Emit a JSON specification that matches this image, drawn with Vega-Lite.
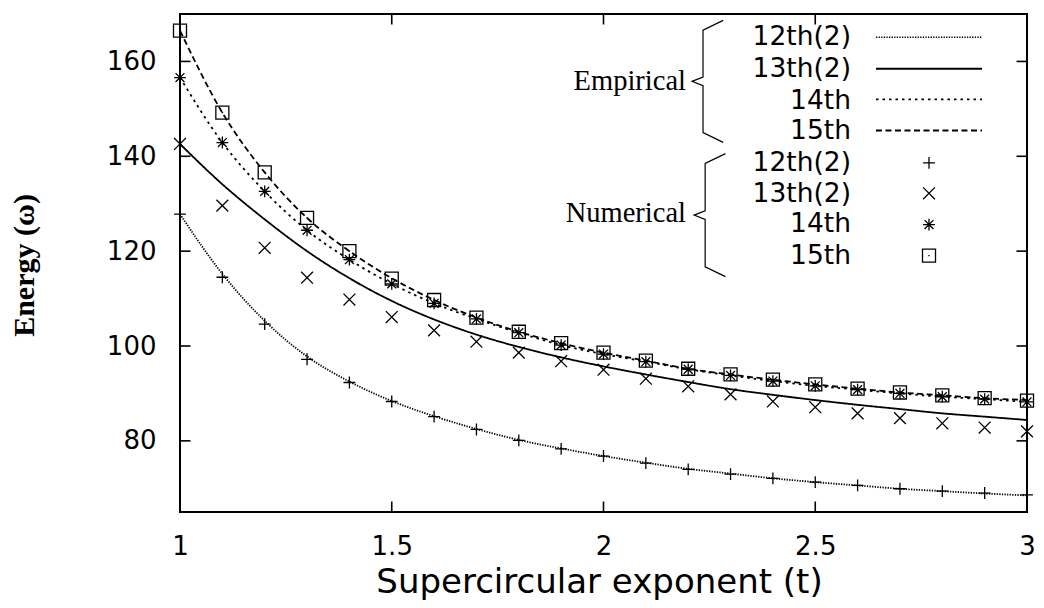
{
  "$schema": "https://vega.github.io/schema/vega-lite/v6.json",
  "width": 847,
  "height": 498,
  "autosize": {"type": "none"},
  "padding": {"left": 180, "top": 14, "right": 17, "bottom": 96},
  "background": "white",
  "data": {"values": [{}]},
  "config": {
    "view": {"stroke": "black", "strokeWidth": 2},
    "axis": {"grid": false, "domain": false, "ticks": false, "labelColor": "black", "labelFont": "DejaVu Sans", "labelFontSize": 26, "titleColor": "black"},
    "text": {"font": "DejaVu Sans", "fontSize": 26.5, "color": "black", "align": "right", "baseline": "alphabetic"},
    "rule": {"color": "black", "strokeWidth": 1.5},
    "point": {"filled": false, "color": "black", "opacity": 1, "strokeWidth": 1.3}
  },
  "datasets": {
    "empirical": [
      {"t":1.0,"series":"12th(2)","E":127.8},{"t":1.1,"series":"12th(2)","E":115.2},{"t":1.2,"series":"12th(2)","E":105.3},{"t":1.3,"series":"12th(2)","E":97.8},{"t":1.4,"series":"12th(2)","E":92.5},{"t":1.5,"series":"12th(2)","E":88.4},{"t":1.6,"series":"12th(2)","E":85.2},{"t":1.7,"series":"12th(2)","E":82.5},{"t":1.8,"series":"12th(2)","E":80.2},{"t":1.9,"series":"12th(2)","E":78.4},{"t":2.0,"series":"12th(2)","E":76.8},{"t":2.1,"series":"12th(2)","E":75.4},{"t":2.2,"series":"12th(2)","E":74.1},{"t":2.3,"series":"12th(2)","E":73.1},{"t":2.4,"series":"12th(2)","E":72.1},{"t":2.5,"series":"12th(2)","E":71.3},{"t":2.6,"series":"12th(2)","E":70.6},{"t":2.7,"series":"12th(2)","E":69.9},{"t":2.8,"series":"12th(2)","E":69.4},{"t":2.9,"series":"12th(2)","E":68.9},{"t":3.0,"series":"12th(2)","E":68.5},
      {"t":1.0,"series":"13th(2)","E":142.6},{"t":1.1,"series":"13th(2)","E":134.1},{"t":1.2,"series":"13th(2)","E":126.7},{"t":1.3,"series":"13th(2)","E":120.0},{"t":1.4,"series":"13th(2)","E":114.3},{"t":1.5,"series":"13th(2)","E":109.5},{"t":1.6,"series":"13th(2)","E":105.6},{"t":1.7,"series":"13th(2)","E":102.4},{"t":1.8,"series":"13th(2)","E":99.8},{"t":1.9,"series":"13th(2)","E":97.6},{"t":2.0,"series":"13th(2)","E":95.7},{"t":2.1,"series":"13th(2)","E":94.0},{"t":2.2,"series":"13th(2)","E":92.4},{"t":2.3,"series":"13th(2)","E":90.9},{"t":2.4,"series":"13th(2)","E":89.7},{"t":2.5,"series":"13th(2)","E":88.6},{"t":2.6,"series":"13th(2)","E":87.6},{"t":2.7,"series":"13th(2)","E":86.7},{"t":2.8,"series":"13th(2)","E":85.8},{"t":2.9,"series":"13th(2)","E":85.1},{"t":3.0,"series":"13th(2)","E":84.4},
      {"t":1.0,"series":"14th","E":156.6},{"t":1.1,"series":"14th","E":142.9},{"t":1.2,"series":"14th","E":132.6},{"t":1.3,"series":"14th","E":124.4},{"t":1.4,"series":"14th","E":118.2},{"t":1.5,"series":"14th","E":113.1},{"t":1.6,"series":"14th","E":109.0},{"t":1.7,"series":"14th","E":105.7},{"t":1.8,"series":"14th","E":102.8},{"t":1.9,"series":"14th","E":100.2},{"t":2.0,"series":"14th","E":98.3},{"t":2.1,"series":"14th","E":96.7},{"t":2.2,"series":"14th","E":95.1},{"t":2.3,"series":"14th","E":93.8},{"t":2.4,"series":"14th","E":92.6},{"t":2.5,"series":"14th","E":91.6},{"t":2.6,"series":"14th","E":90.8},{"t":2.7,"series":"14th","E":90.0},{"t":2.8,"series":"14th","E":89.3},{"t":2.9,"series":"14th","E":88.8},{"t":3.0,"series":"14th","E":88.2},
      {"t":1.0,"series":"15th","E":166.5},{"t":1.1,"series":"15th","E":149.2},{"t":1.2,"series":"15th","E":136.6},{"t":1.3,"series":"15th","E":127.0},{"t":1.4,"series":"15th","E":120.0},{"t":1.5,"series":"15th","E":114.3},{"t":1.6,"series":"15th","E":109.7},{"t":1.7,"series":"15th","E":106.0},{"t":1.8,"series":"15th","E":103.0},{"t":1.9,"series":"15th","E":100.6},{"t":2.0,"series":"15th","E":98.6},{"t":2.1,"series":"15th","E":96.9},{"t":2.2,"series":"15th","E":95.2},{"t":2.3,"series":"15th","E":94.0},{"t":2.4,"series":"15th","E":92.9},{"t":2.5,"series":"15th","E":91.9},{"t":2.6,"series":"15th","E":91.0},{"t":2.7,"series":"15th","E":90.2},{"t":2.8,"series":"15th","E":89.6},{"t":2.9,"series":"15th","E":89.0},{"t":3.0,"series":"15th","E":88.6}
    ],
    "numerical": [
      {"t":1.0,"series":"12th(2)","E":127.8},{"t":1.1,"series":"12th(2)","E":114.5},{"t":1.2,"series":"12th(2)","E":104.6},{"t":1.3,"series":"12th(2)","E":97.2},{"t":1.4,"series":"12th(2)","E":92.3},{"t":1.5,"series":"12th(2)","E":88.3},{"t":1.6,"series":"12th(2)","E":85.1},{"t":1.7,"series":"12th(2)","E":82.4},{"t":1.8,"series":"12th(2)","E":80.1},{"t":1.9,"series":"12th(2)","E":78.3},{"t":2.0,"series":"12th(2)","E":76.8},{"t":2.1,"series":"12th(2)","E":75.3},{"t":2.2,"series":"12th(2)","E":74.0},{"t":2.3,"series":"12th(2)","E":73.0},{"t":2.4,"series":"12th(2)","E":72.1},{"t":2.5,"series":"12th(2)","E":71.3},{"t":2.6,"series":"12th(2)","E":70.6},{"t":2.7,"series":"12th(2)","E":69.9},{"t":2.8,"series":"12th(2)","E":69.4},{"t":2.9,"series":"12th(2)","E":69.0},{"t":3.0,"series":"12th(2)","E":68.6},
      {"t":1.0,"series":"13th(2)","E":142.6},{"t":1.1,"series":"13th(2)","E":129.6},{"t":1.2,"series":"13th(2)","E":120.7},{"t":1.3,"series":"13th(2)","E":114.4},{"t":1.4,"series":"13th(2)","E":109.8},{"t":1.5,"series":"13th(2)","E":106.1},{"t":1.6,"series":"13th(2)","E":103.3},{"t":1.7,"series":"13th(2)","E":100.9},{"t":1.8,"series":"13th(2)","E":98.6},{"t":1.9,"series":"13th(2)","E":96.8},{"t":2.0,"series":"13th(2)","E":95.0},{"t":2.1,"series":"13th(2)","E":93.1},{"t":2.2,"series":"13th(2)","E":91.5},{"t":2.3,"series":"13th(2)","E":89.8},{"t":2.4,"series":"13th(2)","E":88.3},{"t":2.5,"series":"13th(2)","E":87.1},{"t":2.6,"series":"13th(2)","E":85.8},{"t":2.7,"series":"13th(2)","E":84.8},{"t":2.8,"series":"13th(2)","E":83.7},{"t":2.9,"series":"13th(2)","E":82.8},{"t":3.0,"series":"13th(2)","E":82.0},
      {"t":1.0,"series":"14th","E":156.6},{"t":1.1,"series":"14th","E":142.9},{"t":1.2,"series":"14th","E":132.6},{"t":1.3,"series":"14th","E":124.4},{"t":1.4,"series":"14th","E":118.2},{"t":1.5,"series":"14th","E":113.1},{"t":1.6,"series":"14th","E":109.0},{"t":1.7,"series":"14th","E":105.7},{"t":1.8,"series":"14th","E":102.8},{"t":1.9,"series":"14th","E":100.2},{"t":2.0,"series":"14th","E":98.3},{"t":2.1,"series":"14th","E":96.7},{"t":2.2,"series":"14th","E":95.1},{"t":2.3,"series":"14th","E":93.8},{"t":2.4,"series":"14th","E":92.6},{"t":2.5,"series":"14th","E":91.6},{"t":2.6,"series":"14th","E":90.8},{"t":2.7,"series":"14th","E":90.0},{"t":2.8,"series":"14th","E":89.3},{"t":2.9,"series":"14th","E":88.8},{"t":3.0,"series":"14th","E":88.2},
      {"t":1.0,"series":"15th","E":166.5},{"t":1.1,"series":"15th","E":149.2},{"t":1.2,"series":"15th","E":136.6},{"t":1.3,"series":"15th","E":127.0},{"t":1.4,"series":"15th","E":120.0},{"t":1.5,"series":"15th","E":114.2},{"t":1.6,"series":"15th","E":109.7},{"t":1.7,"series":"15th","E":106.0},{"t":1.8,"series":"15th","E":103.0},{"t":1.9,"series":"15th","E":100.6},{"t":2.0,"series":"15th","E":98.6},{"t":2.1,"series":"15th","E":96.9},{"t":2.2,"series":"15th","E":95.2},{"t":2.3,"series":"15th","E":94.0},{"t":2.4,"series":"15th","E":92.9},{"t":2.5,"series":"15th","E":91.9},{"t":2.6,"series":"15th","E":91.0},{"t":2.7,"series":"15th","E":90.2},{"t":2.8,"series":"15th","E":89.6},{"t":2.9,"series":"15th","E":89.0},{"t":3.0,"series":"15th","E":88.5}
    ],
    "yticks": [{"v": 80}, {"v": 100}, {"v": 120}, {"v": 140}, {"v": 160}],
    "xticks": [{"v": 1.5}, {"v": 2}, {"v": 2.5}]
  },
  "layer": [
    {
      "data": {"name": "empirical"},
      "mark": {"type": "line", "interpolate": "monotone", "color": "black", "strokeWidth": 1.8},
      "encoding": {
        "x": {"field": "t", "type": "quantitative", "scale": {"domain": [1, 3], "nice": false, "zero": false},
              "axis": {"values": [1, 1.5, 2, 2.5, 3], "format": "~g", "labelPadding": 21, "labelFlush": false, "labelOverlap": false,
                       "title": "Supercircular exponent (t)", "titleFont": "DejaVu Sans", "titleFontSize": 34, "titleFontWeight": "normal", "titleX": 419, "titleY": 80, "titleBaseline": "alphabetic", "titleAlign": "center"}},
        "y": {"field": "E", "type": "quantitative", "scale": {"domain": [65, 170], "nice": false, "zero": false},
              "axis": {"values": [80, 100, 120, 140, 160], "format": "d", "labelPadding": 24, "labelOverlap": false,
                       "title": "Energy (ω)", "titleFont": "Liberation Serif", "titleFontSize": 30, "titleFontWeight": "bold", "titleAngle": -90, "titleX": -156, "titleY": 251, "titleAlign": "center", "titleBaseline": "middle"}},
        "strokeDash": {"field": "series", "type": "nominal",
                       "scale": {"domain": ["12th(2)", "13th(2)", "14th", "15th"], "range": [[1.3, 1.3], [1, 0], [2.5, 4], [6, 3.5]]},
                       "legend": null}
      }
    },
    {
      "data": {"name": "numerical"},
      "mark": {"type": "point", "size": 140},
      "encoding": {
        "x": {"field": "t", "type": "quantitative", "axis": null},
        "y": {"field": "E", "type": "quantitative", "axis": null},
        "shape": {"field": "series", "type": "nominal",
                  "scale": {"domain": ["12th(2)", "13th(2)", "14th", "15th"],
                            "range": ["M-1,0H1M0,-1V1", "M-1,-1L1,1M-1,1L1,-1", "M-1,0H1M0,-1V1M-0.75,-0.75L0.75,0.75M-0.75,0.75L0.75,-0.75", "M-1.1,-1.1H1.1V1.1H-1.1ZM-0.12,0H0.12"]},
                  "legend": null}
      }
    },
    {"data": {"name": "yticks"}, "mark": {"type": "point", "shape": "M0,0H1", "size": 441, "strokeWidth": 1.6},
     "encoding": {"y": {"field": "v", "type": "quantitative", "axis": null}, "x": {"datum": 1, "type": "quantitative", "axis": null}}},
    {"data": {"name": "yticks"}, "mark": {"type": "point", "shape": "M0,0H-1", "size": 441, "strokeWidth": 1.6},
     "encoding": {"y": {"field": "v", "type": "quantitative", "axis": null}, "x": {"datum": 3, "type": "quantitative", "axis": null}}},
    {"data": {"name": "xticks"}, "mark": {"type": "point", "shape": "M0,0V-1", "size": 441, "strokeWidth": 1.6},
     "encoding": {"x": {"field": "v", "type": "quantitative", "axis": null}, "y": {"datum": 65, "type": "quantitative", "axis": null}}},
    {"data": {"name": "xticks"}, "mark": {"type": "point", "shape": "M0,0V1", "size": 441, "strokeWidth": 1.6},
     "encoding": {"x": {"field": "v", "type": "quantitative", "axis": null}, "y": {"datum": 170, "type": "quantitative", "axis": null}}},
    {"mark": {"type": "point", "shape": "M0.33,-1L0,-0.84L0,-0.07L-0.18,0L0,0.07L0,0.84L0.33,1", "size": 14884, "strokeWidth": 1.2},
     "encoding": {"x": {"datum": 2.235, "type": "quantitative", "axis": null}, "y": {"datum": 155.8, "type": "quantitative", "axis": null}}},
    {"mark": {"type": "point", "shape": "M0.33,-1L0,-0.84L0,-0.07L-0.18,0L0,0.07L0,0.84L0.33,1", "size": 15129, "strokeWidth": 1.2},
     "encoding": {"x": {"datum": 2.24, "type": "quantitative", "axis": null}, "y": {"datum": 127.6, "type": "quantitative", "axis": null}}},
    {"mark": {"type": "text", "font": "Liberation Serif", "fontSize": 28.5, "text": "Empirical"},
     "encoding": {"x": {"datum": 2.1948, "type": "quantitative", "axis": null}, "y": {"datum": 153.88, "type": "quantitative", "axis": null}}},
    {"mark": {"type": "text", "font": "Liberation Serif", "fontSize": 28.5, "text": "Numerical"},
     "encoding": {"x": {"datum": 2.1948, "type": "quantitative", "axis": null}, "y": {"datum": 126.08, "type": "quantitative", "axis": null}}},
    {"mark": {"type": "text", "text": "12th(2)"},
     "encoding": {"x": {"datum": 2.5844, "type": "quantitative", "axis": null}, "y": {"datum": 163.38, "type": "quantitative", "axis": null}}},
    {"mark": {"type": "text", "text": "13th(2)"},
     "encoding": {"x": {"datum": 2.5844, "type": "quantitative", "axis": null}, "y": {"datum": 156.69, "type": "quantitative", "axis": null}}},
    {"mark": {"type": "text", "text": "14th"},
     "encoding": {"x": {"datum": 2.5844, "type": "quantitative", "axis": null}, "y": {"datum": 150.0, "type": "quantitative", "axis": null}}},
    {"mark": {"type": "text", "text": "15th"},
     "encoding": {"x": {"datum": 2.5844, "type": "quantitative", "axis": null}, "y": {"datum": 143.68, "type": "quantitative", "axis": null}}},
    {"mark": {"type": "text", "text": "12th(2)"},
     "encoding": {"x": {"datum": 2.5844, "type": "quantitative", "axis": null}, "y": {"datum": 136.99, "type": "quantitative", "axis": null}}},
    {"mark": {"type": "text", "text": "13th(2)"},
     "encoding": {"x": {"datum": 2.5844, "type": "quantitative", "axis": null}, "y": {"datum": 130.3, "type": "quantitative", "axis": null}}},
    {"mark": {"type": "text", "text": "14th"},
     "encoding": {"x": {"datum": 2.5844, "type": "quantitative", "axis": null}, "y": {"datum": 123.97, "type": "quantitative", "axis": null}}},
    {"mark": {"type": "text", "text": "15th"},
     "encoding": {"x": {"datum": 2.5844, "type": "quantitative", "axis": null}, "y": {"datum": 117.3, "type": "quantitative", "axis": null}}},
    {"mark": {"type": "rule", "strokeWidth": 1.5, "strokeDash": [1.3, 1.3]},
     "encoding": {"x": {"datum": 2.6434, "type": "quantitative", "axis": null}, "x2": {"datum": 2.8937}, "y": {"datum": 165.1, "type": "quantitative", "axis": null}}},
    {"mark": {"type": "rule", "strokeWidth": 1.8},
     "encoding": {"x": {"datum": 2.6434, "type": "quantitative", "axis": null}, "x2": {"datum": 2.8937}, "y": {"datum": 158.46, "type": "quantitative", "axis": null}}},
    {"mark": {"type": "rule", "strokeWidth": 1.8, "strokeDash": [2.5, 4]},
     "encoding": {"x": {"datum": 2.6434, "type": "quantitative", "axis": null}, "x2": {"datum": 2.8937}, "y": {"datum": 151.98, "type": "quantitative", "axis": null}}},
    {"mark": {"type": "rule", "strokeWidth": 1.8, "strokeDash": [6, 3.5]},
     "encoding": {"x": {"datum": 2.6434, "type": "quantitative", "axis": null}, "x2": {"datum": 2.8937}, "y": {"datum": 145.44, "type": "quantitative", "axis": null}}},
    {"mark": {"type": "point", "shape": "M-1,0H1M0,-1V1", "size": 140},
     "encoding": {"x": {"datum": 2.7686, "type": "quantitative", "axis": null}, "y": {"datum": 138.6, "type": "quantitative", "axis": null}}},
    {"mark": {"type": "point", "shape": "M-1,-1L1,1M-1,1L1,-1", "size": 140},
     "encoding": {"x": {"datum": 2.7686, "type": "quantitative", "axis": null}, "y": {"datum": 132.2, "type": "quantitative", "axis": null}}},
    {"mark": {"type": "point", "shape": "M-1,0H1M0,-1V1M-0.75,-0.75L0.75,0.75M-0.75,0.75L0.75,-0.75", "size": 140},
     "encoding": {"x": {"datum": 2.7686, "type": "quantitative", "axis": null}, "y": {"datum": 125.6, "type": "quantitative", "axis": null}}},
    {"mark": {"type": "point", "shape": "M-1.1,-1.1H1.1V1.1H-1.1ZM-0.12,0H0.12", "size": 140},
     "encoding": {"x": {"datum": 2.7686, "type": "quantitative", "axis": null}, "y": {"datum": 119.05, "type": "quantitative", "axis": null}}}
  ],
  "resolve": {"axis": {"x": "independent", "y": "independent"}}
}
